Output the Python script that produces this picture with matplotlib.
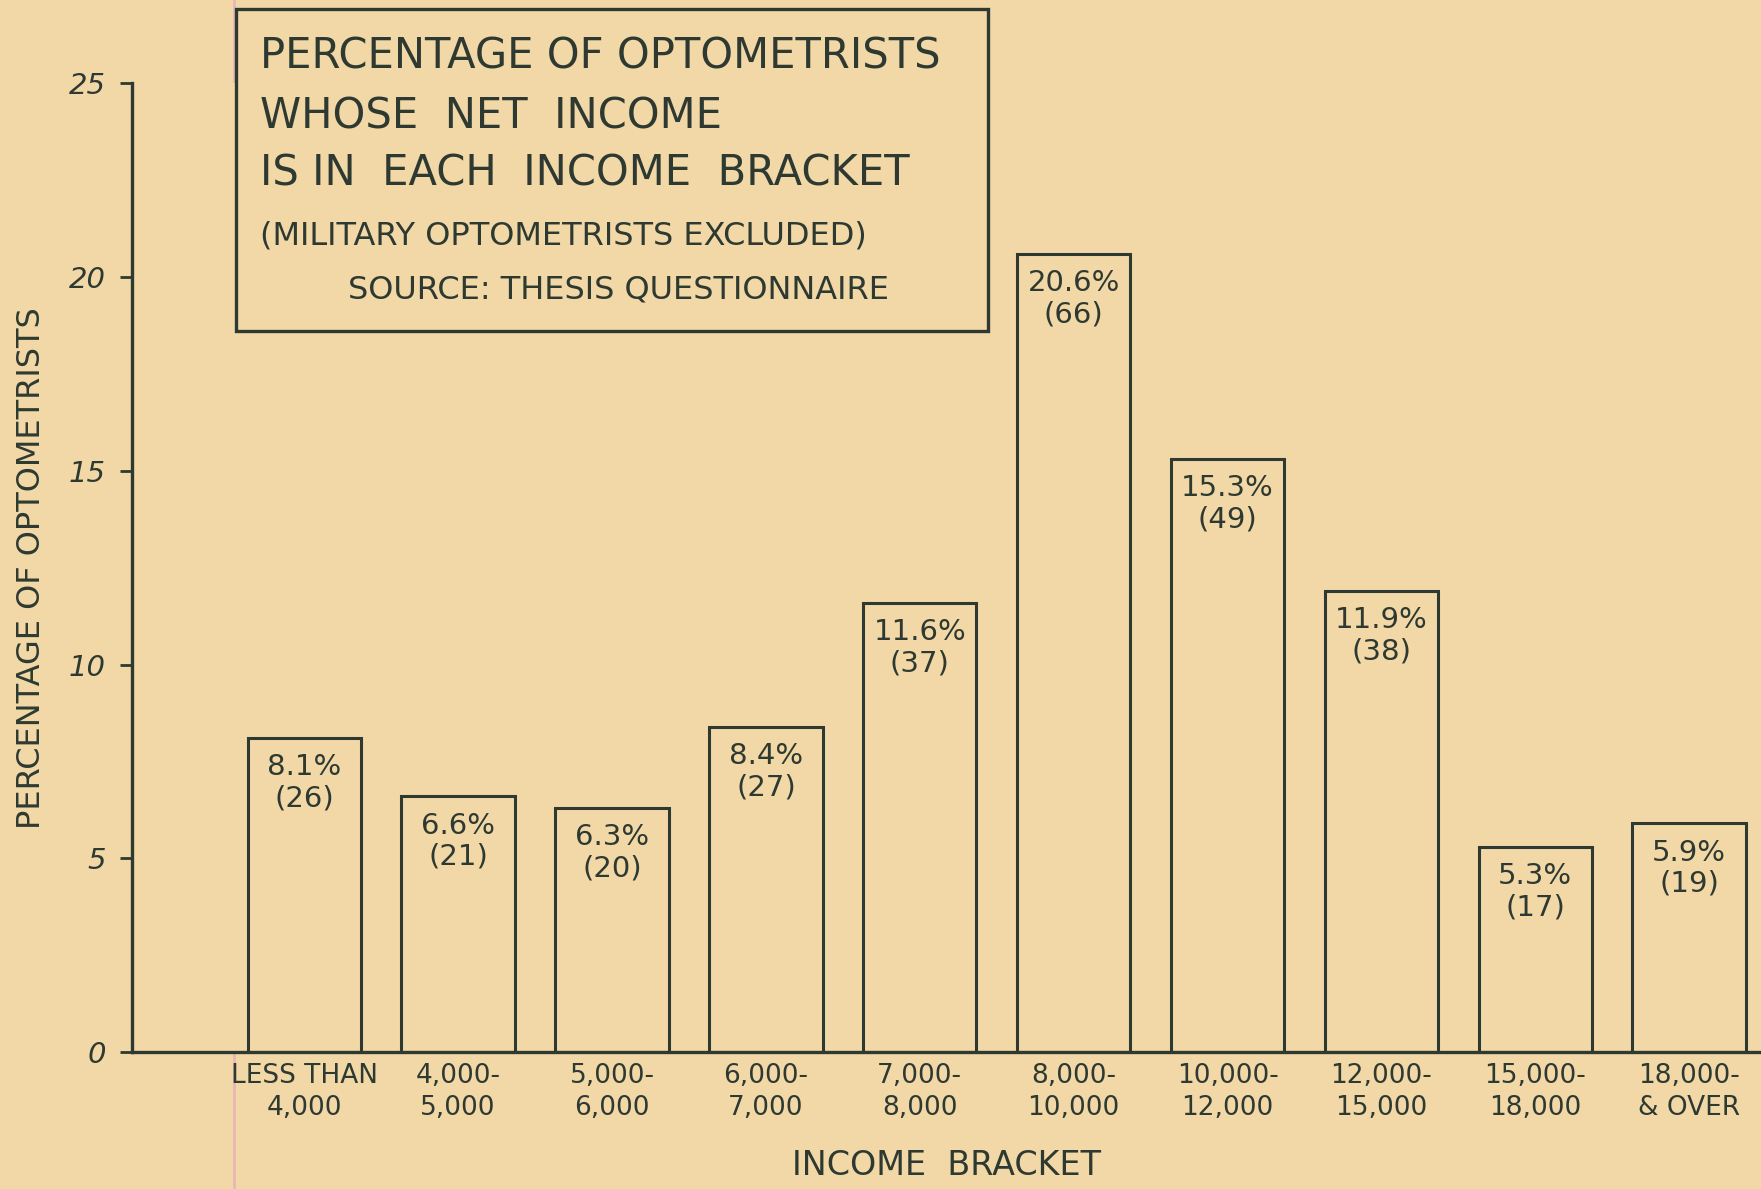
"""
Hand-drawn style bar chart: share of optometrists per net income bracket.
"""
import matplotlib
matplotlib.use("Agg")
import matplotlib.pyplot as plt
from matplotlib.patches import Rectangle
from matplotlib.lines import Line2D

# Data
brackets = ["LESS THAN\n4,000", "4,000-\n5,000", "5,000-\n6,000", "6,000-\n7,000",
            "7,000-\n8,000", "8,000-\n10,000", "10,000-\n12,000", "12,000-\n15,000",
            "15,000-\n18,000", "18,000-\n& OVER"]
percent = [8.1, 6.6, 6.3, 8.4, 11.6, 20.6, 15.3, 11.9, 5.3, 5.9]
counts = [26, 21, 20, 27, 37, 66, 49, 38, 17, 19]
y_ticks = [0, 5, 10, 15, 20, 25]

title_lines = ["PERCENTAGE OF OPTOMETRISTS",
               "WHOSE  NET  INCOME",
               "IS IN  EACH  INCOME  BRACKET"]
note_line = "(MILITARY OPTOMETRISTS EXCLUDED)"
source_line = "SOURCE: THESIS QUESTIONNAIRE"

PAPER = "#f2d8a7"
INK = "#2e3a31"
OUTPUT_FILENAME = "out.png"


def draw_chart():
    fig = plt.figure(figsize=(17.61, 11.89), dpi=100, facecolor=PAPER)
    ax = fig.add_axes([0.0752, 0.1152, 0.9248, 0.8147])
    ax.set_facecolor(PAPER)

    x = list(range(len(percent)))
    bars = ax.bar(x, percent, width=0.737, fill=False, edgecolor=INK, linewidth=2.2)

    # percentage and count written inside the top of each bar
    for bar, p, c in zip(bars, percent, counts):
        ax.annotate(f"{p}%\n({c})",
                    xy=(bar.get_x() + bar.get_width() / 2, bar.get_height()),
                    xytext=(0, -11), textcoords="offset points",
                    ha="center", va="top", fontsize=21, color=INK,
                    linespacing=1.15)

    ax.set_xlim(-1.117, 9.467)
    ax.set_ylim(0, 25)

    ax.set_xticks(x, brackets, fontsize=19, color=INK, linespacing=1.3)
    ax.tick_params(axis="x", length=0, pad=8)
    ax.set_yticks(y_ticks, [str(t) for t in y_ticks], fontsize=21, color=INK,
                  style="italic")
    ax.tick_params(axis="y", length=9, width=2, color=INK, pad=10, direction="out")

    for side in ["top", "right"]:
        ax.spines[side].set_visible(False)
    for side in ["left", "bottom"]:
        ax.spines[side].set_color(INK)
        ax.spines[side].set_linewidth(2.4)

    ax.set_xlabel("INCOME  BRACKET", fontsize=24, color=INK, labelpad=20)
    ax.set_ylabel("PERCENTAGE OF OPTOMETRISTS", fontsize=23, color=INK, labelpad=16)

    # faint pink margin line of the paper
    fig.add_artist(Line2D([0.133, 0.133], [0, 1], transform=fig.transFigure,
                          color="#e9b7b4", linewidth=2, zorder=0))

    # title box
    fig.add_artist(Rectangle((0.134, 0.7216), 0.427, 0.2708, transform=fig.transFigure,
                             facecolor=PAPER, edgecolor=INK, linewidth=2.4, zorder=5))
    for line, y in zip(title_lines, [0.9529, 0.9024, 0.8537]):
        fig.text(0.1476, y, line, fontsize=30, color=INK, va="center", ha="left", zorder=6)
    fig.text(0.1476, 0.8015, note_line, fontsize=23, color=INK, va="center", ha="left", zorder=6)
    fig.text(0.1976, 0.7561, source_line, fontsize=23, color=INK, va="center", ha="left", zorder=6)

    fig.savefig(OUTPUT_FILENAME, dpi=100, facecolor=PAPER)


if __name__ == "__main__":
    draw_chart()
